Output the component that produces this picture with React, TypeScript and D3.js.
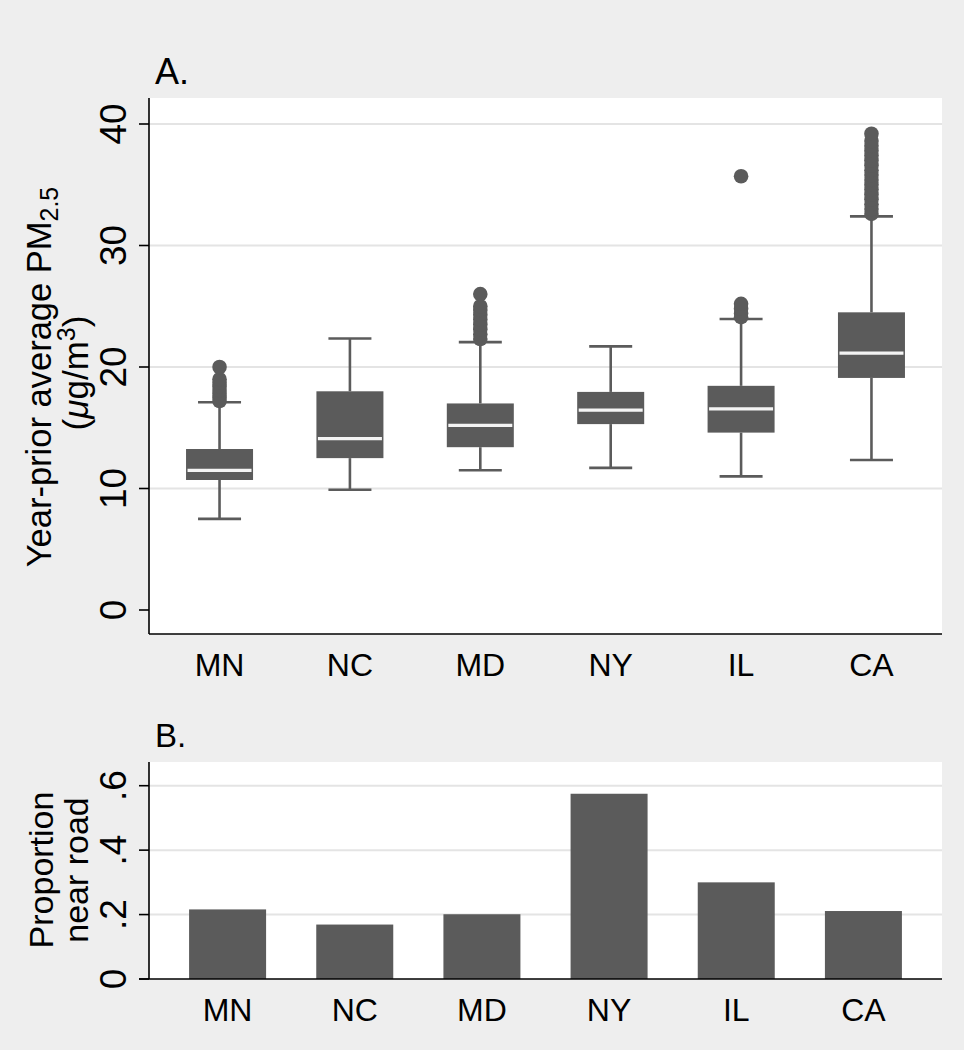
import React from "react";
import * as d3 from "d3";

const categories = ["MN", "NC", "MD", "NY", "IL", "CA"];
const lowerWhisker = [7.5, 9.9, 11.5, 11.7, 11.0, 12.35];
const q1 = [10.7, 12.5, 13.4, 15.3, 14.6, 19.1];
const median = [11.5, 14.1, 15.2, 16.45, 16.55, 21.15];
const q3 = [13.25, 18.0, 17.0, 17.95, 18.45, 24.5];
const upperWhisker = [17.1, 22.35, 22.05, 21.7, 23.95, 32.4];
const outliersMN = [17.2, 17.5, 17.8, 18.1, 18.4, 18.7, 19.0, 20.0];
const outliersNC: number[] = [];
const outliersMD = [22.3, 22.7, 23.1, 23.5, 23.9, 24.3, 24.7, 25.0, 26.0];
const outliersNY: number[] = [];
const outliersIL = [24.1, 24.4, 24.8, 25.2, 35.7];
const outliersCA = [32.6, 33.0, 33.4, 33.8, 34.2, 34.6, 35.0, 35.4, 35.8, 36.2, 36.6, 37.0, 37.4, 37.8, 38.2, 38.6, 39.2];
const outliers = [outliersMN, outliersNC, outliersMD, outliersNY, outliersIL, outliersCA];

const proportionNearRoad = [0.216, 0.169, 0.201, 0.575, 0.3, 0.211];

const yTicksA = [0, 10, 20, 30, 40];
const yTickLabelsA = ["0", "10", "20", "30", "40"];
const yTicksB = [0, 0.2, 0.4, 0.6];
const yTickLabelsB = ["0", ".2", ".4", ".6"];

const FONT = "'Liberation Sans', Arial, Helvetica, sans-serif";
const BG = "#eeeeee";
const GRID = "#e4e4e4";
const MARK = "#5b5b5b";

export default function App() {
  // Panel A geometry
  const left = 149, right = 942;
  const aTop = 98, aBottom = 634;
  const yA = d3.scaleLinear().domain([0, 40]).range([610, 124]);
  const xA = d3.scalePoint<string>().domain(categories).range([left, right]).padding(0.541);
  const boxW = 67, capW = 43, r = 7.3;

  // Panel B geometry
  const bTop = 762, bBottom = 979;
  const yB = d3.scaleLinear().domain([0, 0.6]).range([979, 785.7]);
  const xB = d3.scalePoint<string>().domain(categories).range([left, right]).padding(0.618);
  const barW = 77;

  return (
    <svg width={964} height={1050} style={{ position: "absolute", left: 0, top: 0, display: "block" }} fontFamily={FONT}>
      <rect x={0} y={0} width={964} height={1050} fill={BG} />

      {/* Panel A */}
      <text x={155} y={84} fontSize={36} fill="#000">A.</text>
      <rect x={left} y={aTop} width={right - left} height={aBottom - aTop} fill="#fff" />
      {yTicksA.filter((t) => t > 0).map((t) => (
        <line key={"ga" + t} x1={left} x2={right} y1={yA(t)} y2={yA(t)} stroke={GRID} strokeWidth={2} />
      ))}
      {categories.map((c, i) => {
        const cx = xA(c)!;
        return (
          <g key={"box" + c}>
            <line x1={cx} x2={cx} y1={yA(q3[i])} y2={yA(upperWhisker[i])} stroke={MARK} strokeWidth={2.6} />
            <line x1={cx} x2={cx} y1={yA(q1[i])} y2={yA(lowerWhisker[i])} stroke={MARK} strokeWidth={2.6} />
            <line x1={cx - capW / 2} x2={cx + capW / 2} y1={yA(upperWhisker[i])} y2={yA(upperWhisker[i])} stroke={MARK} strokeWidth={2.6} />
            <line x1={cx - capW / 2} x2={cx + capW / 2} y1={yA(lowerWhisker[i])} y2={yA(lowerWhisker[i])} stroke={MARK} strokeWidth={2.6} />
            <rect x={cx - boxW / 2} y={yA(q3[i])} width={boxW} height={yA(q1[i]) - yA(q3[i])} fill={MARK} />
            <line x1={cx - boxW / 2 + 1.5} x2={cx + boxW / 2 - 1.5} y1={yA(median[i])} y2={yA(median[i])} stroke="#f4f4f4" strokeWidth={3.2} />
            {outliers[i].map((v, j) => (
              <circle key={j} cx={cx} cy={yA(v)} r={r} fill={MARK} />
            ))}
          </g>
        );
      })}
      <line x1={left} x2={left} y1={aTop} y2={aBottom} stroke="#000" strokeWidth={1.6} />
      <line x1={left} x2={right} y1={aBottom} y2={aBottom} stroke="#000" strokeWidth={1.6} />
      {yTicksA.map((t, i) => (
        <g key={"ta" + t}>
          <line x1={left - 10} x2={left} y1={yA(t)} y2={yA(t)} stroke="#000" strokeWidth={1.6} />
          <text transform={`translate(126,${yA(t)}) rotate(-90)`} textAnchor="middle" fontSize={37} fill="#000">
            {yTickLabelsA[i]}
          </text>
        </g>
      ))}
      {categories.map((c) => (
        <text key={"xa" + c} x={xA(c)!} y={676} textAnchor="middle" fontSize={32} fill="#000">{c}</text>
      ))}
      <text transform={`translate(51,377) rotate(-90)`} textAnchor="middle" fontSize={34.5} fill="#000">
        Year-prior average PM<tspan fontSize={25} dy={7}>2.5</tspan>
      </text>
      <text transform={`translate(88,373) rotate(-90)`} textAnchor="middle" fontSize={35} fill="#000">
        (<tspan fontStyle="italic">μ</tspan>g/m<tspan fontSize={25} dy={-13}>3</tspan><tspan dy={13}>)</tspan>
      </text>

      {/* Panel B */}
      <text x={155} y={747} fontSize={33} fill="#000">B.</text>
      <rect x={left} y={bTop} width={right - left} height={bBottom - bTop} fill="#fff" />
      {yTicksB.filter((t) => t > 0).map((t) => (
        <line key={"gb" + t} x1={left} x2={right} y1={yB(t)} y2={yB(t)} stroke={GRID} strokeWidth={2} />
      ))}
      {categories.map((c, i) => (
        <rect key={"bar" + c} x={xB(c)! - barW / 2} y={yB(proportionNearRoad[i])} width={barW} height={yB(0) - yB(proportionNearRoad[i])} fill={MARK} />
      ))}
      <line x1={left} x2={left} y1={bTop} y2={bBottom} stroke="#000" strokeWidth={1.6} />
      <line x1={left - 10} x2={right} y1={bBottom} y2={bBottom} stroke="#000" strokeWidth={1.6} />
      {yTicksB.map((t, i) => (
        <g key={"tb" + t}>
          <line x1={left - 10} x2={left} y1={yB(t)} y2={yB(t)} stroke="#000" strokeWidth={1.6} />
          <text transform={`translate(126,${yB(t)}) rotate(-90)`} textAnchor="middle" fontSize={37} fill="#000">
            {yTickLabelsB[i]}
          </text>
        </g>
      ))}
      {categories.map((c) => (
        <text key={"xb" + c} x={xB(c)!} y={1021} textAnchor="middle" fontSize={32} fill="#000">{c}</text>
      ))}
      <text transform={`translate(53,870) rotate(-90)`} textAnchor="middle" fontSize={34} fill="#000">Proportion</text>
      <text transform={`translate(88,870) rotate(-90)`} textAnchor="middle" fontSize={34} fill="#000">near road</text>
    </svg>
  );
}
